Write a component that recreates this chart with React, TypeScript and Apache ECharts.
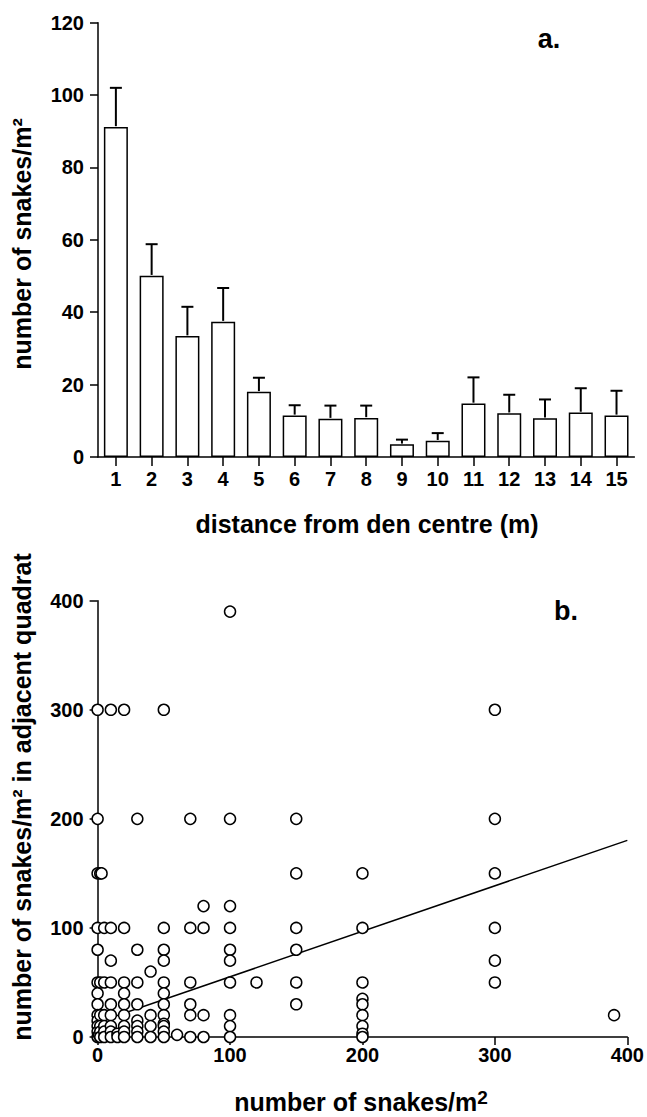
import React, { useEffect, useRef } from "react";
import * as echarts from "echarts";

const distCategories = ["1", "2", "3", "4", "5", "6", "7", "8", "9", "10", "11", "12", "13", "14", "15"];
const meanDensity = [91.2, 50.1, 33.4, 37.4, 18.0, 11.5, 10.6, 10.8, 3.5, 4.5, 14.8, 12.1, 10.7, 12.3, 11.5];
const upperError = [102.0, 58.8, 41.5, 46.7, 21.9, 14.3, 14.2, 14.2, 4.8, 6.6, 22.0, 17.2, 15.9, 19.0, 18.3];

const yTicksA = [0, 20, 40, 60, 80, 100, 120];
const xTicksB = [0, 100, 200, 300, 400];

// quadrat density (x) vs density in adjacent quadrat (y)
const quadratX = [
  0, 0, 0, 0, 0, 0, 0, 0, 0, 0, 0, 0, 0, 1, 2,
  2, 2, 2, 2, 2, 3,
  5, 5, 5, 5, 5, 5,
  10, 10, 10, 10, 10, 10, 10, 10, 10,
  15, 15,
  20, 20, 20, 20, 20, 20, 20, 20, 20,
  30, 30, 30, 30, 30, 30, 30, 30,
  40, 40, 40, 40,
  50, 50, 50, 50, 50, 50, 50, 50, 50, 50, 50, 50,
  60,
  70, 70, 70, 70, 70, 70,
  80, 80, 80, 80,
  100, 100, 100, 100, 100, 100, 100, 100, 100, 100,
  120,
  150, 150, 150, 150, 150, 150,
  200, 200, 200, 200, 200, 200, 200, 200, 200,
  300, 300, 300, 300, 300, 300,
  390,
];
const quadratY = [
  300, 200, 150, 100, 80, 50, 40, 30, 20, 15, 10, 5, 0, 2, 150,
  50, 20, 10, 5, 0, 150,
  100, 50, 20, 10, 5, 0,
  300, 100, 70, 50, 30, 20, 10, 5, 0,
  3, 0,
  300, 100, 50, 40, 30, 20, 10, 5, 0,
  200, 80, 50, 30, 15, 10, 5, 0,
  60, 20, 10, 0,
  300, 100, 80, 70, 50, 40, 30, 20, 12, 10, 5, 0,
  2,
  200, 100, 50, 30, 20, 0,
  120, 100, 20, 0,
  390, 200, 120, 100, 80, 70, 50, 20, 10, 0,
  50,
  200, 150, 100, 80, 50, 30,
  150, 100, 50, 35, 30, 20, 10, 3, 0,
  300, 200, 150, 100, 70, 50,
  20,
];

// regression line endpoints
const fitX = [5, 400];
const fitY = [15.6, 180.3];

const FONT = "'Liberation Sans', Arial, Helvetica, sans-serif";

export default function App() {
  const ref = useRef<HTMLDivElement>(null);
  useEffect(() => {
    const chart = echarts.init(ref.current!, null, { renderer: "svg" });
    const axisLine = { show: true, lineStyle: { color: "#000", width: 1.5 } };
    const axisTick = { show: true, length: 8, lineStyle: { color: "#000", width: 1.5 } };
    const tickLabel = { color: "#000", fontSize: 20, fontWeight: "bold" as const, fontFamily: FONT };
    const titleStyle = { fill: "#000", fontSize: 25, fontWeight: "bold", fontFamily: FONT };

    const scatterData = quadratX.map((x, i) => [x, quadratY[i]]);
    const barErr = meanDensity.map((m, i) => [i, m, upperError[i]]);

    chart.setOption({
      animation: false,
      backgroundColor: "#fff",
      grid: [
        { left: 98, top: 22.7, width: 536.4, height: 434.3 },
        { left: 97.6, top: 600.7, width: 531, height: 436.3 },
      ],
      xAxis: [
        {
          type: "category",
          gridIndex: 0,
          data: distCategories,
          axisLine,
          axisTick: { ...axisTick, alignWithLabel: true, length: 9 },
          axisLabel: { ...tickLabel, margin: 12 },
          splitLine: { show: false },
        },
        {
          type: "value",
          gridIndex: 1,
          min: 0,
          max: 400,
          interval: 100,
          axisLine,
          axisTick,
          axisLabel: { ...tickLabel, margin: 8 },
          splitLine: { show: false },
        },
      ],
      yAxis: [
        {
          type: "value",
          gridIndex: 0,
          min: yTicksA[0],
          max: yTicksA[yTicksA.length - 1],
          interval: 20,
          axisLine,
          axisTick,
          axisLabel: { ...tickLabel, margin: 14 },
          splitLine: { show: false },
        },
        {
          type: "value",
          gridIndex: 1,
          min: xTicksB[0],
          max: xTicksB[xTicksB.length - 1],
          interval: 100,
          axisLine,
          axisTick,
          axisLabel: { ...tickLabel, margin: 14 },
          splitLine: { show: false },
        },
      ],
      series: [
        {
          type: "bar",
          xAxisIndex: 0,
          yAxisIndex: 0,
          data: meanDensity,
          barWidth: 24,
          itemStyle: { color: "#fff", borderColor: "#000", borderWidth: 1.5 },
          z: 2,
        },
        {
          type: "custom",
          xAxisIndex: 0,
          yAxisIndex: 0,
          data: barErr,
          encode: { x: 0, y: [1, 2] },
          z: 3,
          renderItem: (params: any, api: any) => {
            const idx = api.value(0);
            const base = api.coord([idx, api.value(1)]);
            const top = api.coord([idx, api.value(2)]);
            const st = { stroke: "#000", lineWidth: 2 };
            return {
              type: "group",
              children: [
                { type: "line", shape: { x1: top[0], y1: top[1], x2: base[0], y2: base[1] - 0.75 }, style: st },
                { type: "line", shape: { x1: top[0] - 6, y1: top[1], x2: top[0] + 6, y2: top[1] }, style: st },
              ],
            };
          },
        },
        {
          type: "line",
          xAxisIndex: 1,
          yAxisIndex: 1,
          data: fitX.map((x, i) => [x, fitY[i]]),
          symbol: "none",
          lineStyle: { color: "#000", width: 1.5 },
          z: 2,
        },
        {
          type: "scatter",
          xAxisIndex: 1,
          yAxisIndex: 1,
          data: scatterData,
          symbol: "circle",
          symbolSize: 11,
          itemStyle: { color: "#fff", borderColor: "#000", borderWidth: 1.5, opacity: 1 },
          z: 3,
        },
      ],
      graphic: [
        {
          type: "text",
          x: 549,
          y: 39,
          style: { ...titleStyle, fontSize: 27, text: "a.", align: "center", verticalAlign: "middle" },
        },
        {
          type: "text",
          x: 566,
          y: 611,
          style: { ...titleStyle, fontSize: 27, text: "b.", align: "center", verticalAlign: "middle" },
        },
        {
          type: "text",
          x: 367,
          y: 524,
          style: { ...titleStyle, text: "distance from den centre (m)", align: "center", verticalAlign: "middle" },
        },
        {
          type: "text",
          x: 22,
          y: 244,
          rotation: Math.PI / 2,
          style: { ...titleStyle, text: "number of snakes/m²", align: "center", verticalAlign: "middle" },
        },
        {
          type: "text",
          x: 22,
          y: 797,
          rotation: Math.PI / 2,
          style: {
            ...titleStyle,
            text: "number of snakes/m² in adjacent quadrat",
            align: "center",
            verticalAlign: "middle",
          },
        },
        {
          type: "text",
          x: 361,
          y: 1101,
          style: {
            ...titleStyle,
            text: "{m|number of snakes/m}{s|2}",
            align: "center",
            verticalAlign: "middle",
            rich: {
              m: { fontSize: 25, fontWeight: "bold", fontFamily: FONT, fill: "#000", verticalAlign: "bottom" },
              s: { fontSize: 19, fontWeight: "bold", fontFamily: FONT, fill: "#000", verticalAlign: "top", padding: [0, 0, 8, 0] },
            },
          },
        },
      ],
    });
    return () => chart.dispose();
  }, []);
  return (
    <div
      ref={ref}
      style={{ position: "absolute", left: 0, top: 0, width: 647, height: 1117, background: "#fff" }}
    />
  );
}
